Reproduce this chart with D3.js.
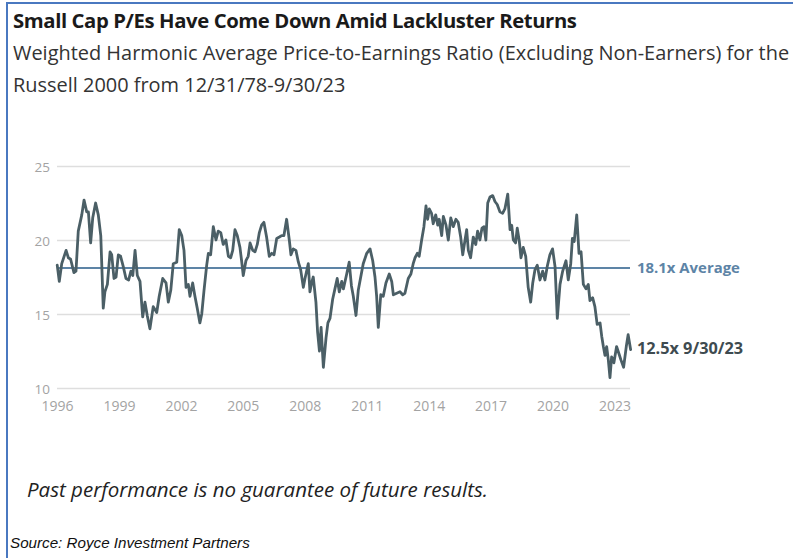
<!DOCTYPE html>
<html>
<head>
<meta charset="utf-8">
<script src="https://cdn.jsdelivr.net/npm/d3@7"></script>
<style>
  html, body { margin: 0; padding: 0; background: #fff; }
  svg { display: block; }
</style>
</head>
<body>
<svg id="chart" width="793" height="558"></svg>
<script>
// ---- Data ----
const titleText = "Small Cap P/Es Have Come Down Amid Lackluster Returns";
const subtitleLines = [
  "Weighted Harmonic Average Price-to-Earnings Ratio (Excluding Non-Earners) for the",
  "Russell 2000 from 12/31/78-9/30/23"
];
const footnoteText = "Past performance is no guarantee of future results.";
const sourceText = "Source: Royce Investment Partners";

const xTickYears = [1996, 1999, 2002, 2005, 2008, 2011, 2014, 2017, 2020, 2023];
const yTickValues = [10, 15, 20, 25];
const averageValue = 18.1;
const averageLabel = "18.1x Average";
const lastLabel = "12.5x 9/30/23";

// decimal year of each observation
const dates = [
  1996.01,1996.11,1996.23,1996.44,1996.55,1996.66,1996.82,1996.92,
  1997.03,1997.20,1997.31,1997.44,1997.52,1997.63,1997.73,1997.87,
  1998.00,1998.12,1998.24,1998.32,1998.44,1998.57,1998.65,1998.76,1998.86,1998.97,
  1999.08,1999.21,1999.34,1999.47,1999.58,1999.67,1999.78,1999.89,
  2000.02,2000.15,2000.26,2000.37,2000.50,2000.66,2000.83,2000.95,
  2001.12,2001.28,2001.39,2001.51,2001.63,2001.80,2001.92,
  2002.04,2002.15,2002.25,2002.36,2002.44,2002.57,2002.68,2002.79,2002.92,
  2003.01,2003.12,2003.25,2003.33,2003.44,2003.57,2003.70,2003.81,2003.93,
  2004.05,2004.18,2004.30,2004.41,2004.51,2004.62,2004.73,2004.86,2004.94,
  2005.02,2005.15,2005.26,2005.35,2005.48,2005.59,2005.70,2005.80,2005.91,
  2006.02,2006.15,2006.28,2006.40,2006.51,2006.64,2006.77,2006.88,2006.99,
  2007.12,2007.25,2007.33,2007.44,2007.57,2007.69,2007.80,2007.93,
  2008.01,2008.17,2008.25,2008.33,2008.41,2008.54,2008.62,2008.71,2008.79,2008.90,
  2009.03,2009.12,2009.22,2009.35,2009.46,2009.57,2009.67,2009.79,2009.87,
  2010.03,2010.15,2010.26,2010.35,2010.41,2010.48,2010.59,2010.83,
  2011.00,2011.16,2011.29,2011.40,2011.48,2011.56,2011.68,2011.80,2011.93,
  2012.09,2012.21,2012.29,2012.45,2012.61,2012.74,2012.85,
  2013.01,2013.14,2013.25,2013.34,2013.45,2013.54,2013.66,2013.77,2013.87,2013.95,
  2014.03,2014.14,2014.22,2014.34,2014.44,2014.51,2014.63,2014.71,2014.84,2014.95,
  2015.07,2015.19,2015.32,2015.43,2015.55,2015.65,2015.76,2015.84,2015.92,
  2016.03,2016.16,2016.28,2016.37,2016.48,2016.58,2016.68,2016.77,2016.86,2016.97,
  2017.10,2017.21,2017.32,2017.45,2017.58,2017.69,2017.83,2017.94,
  2018.02,2018.10,2018.21,2018.29,2018.39,2018.47,2018.58,2018.70,2018.82,2018.94,
  2019.04,2019.15,2019.26,2019.39,2019.52,2019.63,2019.74,2019.87,
  2020.00,2020.12,2020.23,2020.36,2020.49,2020.65,2020.76,2020.88,2020.96,
  2021.05,2021.17,2021.28,2021.38,2021.49,2021.62,2021.73,2021.81,2021.94,
  2022.05,2022.16,2022.30,2022.38,2022.46,2022.54,2022.62,2022.70,2022.78,2022.86,2022.97,
  2023.10,2023.22,2023.31,2023.44,2023.57,2023.66,2023.78
];

// weighted harmonic average P/E
const peValues = [
  18.3,17.2,18.4,19.3,18.8,18.7,17.8,17.9,
  20.6,21.7,22.7,21.9,21.9,19.8,21.5,22.5,
  21.7,20.3,15.4,16.5,17.0,19.2,19.0,17.4,17.5,19.0,
  18.9,18.2,17.4,17.3,17.9,17.6,19.3,17.6,
  17.2,14.8,15.8,14.9,14.0,15.5,15.1,16.2,
  17.4,17.1,15.8,16.6,18.4,18.5,20.7,
  20.3,19.3,16.8,17.0,16.2,17.1,16.2,15.4,14.4,
  15.0,16.6,18.3,19.1,19.0,20.9,20.0,20.6,20.5,
  19.7,20.0,18.9,18.8,19.3,20.7,20.3,19.5,18.6,
  17.6,18.6,18.9,19.8,19.3,19.2,19.7,20.5,21.0,
  21.2,20.2,18.9,19.1,19.0,20.1,20.2,20.3,20.3,
  21.4,20.0,19.0,19.4,19.3,18.5,18.0,16.8,
  17.4,18.4,16.5,17.1,17.5,15.8,13.8,12.5,14.1,11.4,
  13.4,14.4,14.7,16.0,16.7,17.4,16.5,17.2,16.7,
  17.7,18.5,16.9,16.2,15.6,14.9,16.6,18.4,
  19.1,19.4,18.6,17.5,16.2,14.1,16.3,16.2,17.1,
  17.7,17.2,16.3,16.4,16.5,16.3,16.4,
  17.4,17.7,18.4,18.8,19.1,18.9,20.0,20.9,22.3,21.4,
  22.1,21.8,21.1,21.7,21.0,21.4,20.3,21.6,21.0,20.0,
  21.5,20.9,21.4,21.2,20.2,19.0,20.0,20.7,19.3,
  18.8,20.2,19.7,20.6,20.0,20.8,20.9,20.0,22.5,22.9,
  23.0,22.6,22.4,21.9,21.8,22.1,23.1,20.7,
  21.0,20.0,19.8,20.8,19.9,18.8,19.5,18.9,16.8,15.8,
  17.1,18.0,18.3,17.3,17.9,17.3,18.2,19.0,
  19.4,18.2,14.7,17.0,17.9,18.6,17.3,18.4,20.1,
  19.9,21.7,19.1,19.2,17.0,16.7,17.0,15.9,16.1,
  15.5,14.3,14.4,13.5,12.8,12.2,12.8,11.9,10.7,12.1,11.7,
  12.8,12.3,11.9,11.4,12.8,13.6,12.6
];

// ---- Drawing ----
const svg = d3.select("#chart");
const W = 793, H = 558;
const sans = "'Open Sans', Lato, sans-serif";
svg.append("rect").attr("width", W).attr("height", H).attr("fill", "#fff");

// fit a text element's font-size so that it spans a given width
function fitWidth(sel, width) {
  const node = sel.node();
  const fs = parseFloat(sel.attr("font-size"));
  const w = node.getComputedTextLength();
  if (w > 0) sel.attr("font-size", (fs * width / w).toFixed(2));
  return sel;
}

// frame
const frameColor = "#4a78c0";
svg.append("line").attr("x1", 7).attr("x2", 7).attr("y1", 3).attr("y2", H)
  .attr("stroke", frameColor).attr("stroke-width", 2);
svg.append("line").attr("x1", 6).attr("x2", W).attr("y1", 3).attr("y2", 3)
  .attr("stroke", frameColor).attr("stroke-width", 2);

// titles
fitWidth(svg.append("text").attr("x", 13).attr("y", 28)
  .attr("font-family", sans)
  .attr("font-weight", 700).attr("font-size", 17).attr("fill", "#1a1a1a")
  .attr("letter-spacing", -0.4)
  .text(titleText), 560);
const subs = svg.selectAll("text.sub").data(subtitleLines).enter().append("text")
  .attr("class", "sub")
  .attr("x", 13).attr("y", (d, i) => 60 + i * 32)
  .attr("font-family", sans)
  .attr("font-size", 18).attr("fill", "#333")
  .text(d => d);
fitWidth(d3.select(subs.nodes()[0]), 776);
d3.select(subs.nodes()[1]).attr("font-size", d3.select(subs.nodes()[0]).attr("font-size"));

// scales
const x = d3.scaleLinear().domain([1996, 2023.75]).range([57, 630]);
const y = d3.scaleLinear().domain([10, 25]).range([388, 166]);

// gridlines + y axis labels
const yAxis = d3.axisLeft(y).tickValues(yTickValues).tickSize(-(630 - 57)).tickPadding(7).tickFormat(d3.format("d"));
const gy = svg.append("g").attr("transform", "translate(57,0)").call(yAxis);
gy.select(".domain").remove();
gy.selectAll(".tick line").attr("stroke", "#dedede").attr("stroke-width", 1.5);
gy.selectAll(".tick text")
  .attr("font-family", sans)
  .attr("font-size", 13.5).attr("fill", "#a3a3a3").attr("dy", "0.4em");

// x axis labels
const xAxis = d3.axisBottom(x).tickValues(xTickYears).tickSize(0).tickPadding(12).tickFormat(d3.format("d"));
const gx = svg.append("g").attr("transform", "translate(0,389)").call(xAxis);
gx.select(".domain").remove();
gx.selectAll(".tick text")
  .attr("font-family", sans)
  .attr("font-size", 14).attr("fill", "#a3a3a3");

// average line
svg.append("line")
  .attr("x1", x(1996)).attr("x2", x(2023.75))
  .attr("y1", y(averageValue)).attr("y2", y(averageValue))
  .attr("stroke", "#5d84a6").attr("stroke-width", 2);

// series line
const pts = dates.map((d, i) => [d, peValues[i]]);
const line = d3.line().x(d => x(d[0])).y(d => y(d[1])).curve(d3.curveLinear);
svg.append("path").datum(pts)
  .attr("d", line)
  .attr("fill", "none").attr("stroke", "#4b5f66").attr("stroke-width", 2.8)
  .attr("stroke-linejoin", "round").attr("stroke-linecap", "round");

// annotations
fitWidth(svg.append("text").attr("x", x(2023.75) + 7).attr("y", y(averageValue))
  .attr("dy", "0.35em")
  .attr("font-family", sans)
  .attr("font-weight", 700).attr("font-size", 15).attr("fill", "#5d84a6")
  .text(averageLabel), 103);
fitWidth(svg.append("text").attr("x", x(2023.75) + 7).attr("y", y(peValues[peValues.length - 1]) - 1)
  .attr("dy", "0.35em")
  .attr("font-family", sans)
  .attr("font-weight", 700).attr("font-size", 15).attr("fill", "#3e4b50")
  .text(lastLabel), 106);

// footnotes
fitWidth(svg.append("text").attr("x", 27).attr("y", 497)
  .attr("font-family", sans)
  .attr("font-style", "italic").attr("font-size", 18).attr("fill", "#222")
  .text(footnoteText), 461);
fitWidth(svg.append("text").attr("x", 10).attr("y", 548)
  .attr("font-family", "'Liberation Sans', Arial, sans-serif")
  .attr("font-style", "italic").attr("font-size", 13).attr("fill", "#111")
  .text(sourceText), 240);
</script>
</body>
</html>
